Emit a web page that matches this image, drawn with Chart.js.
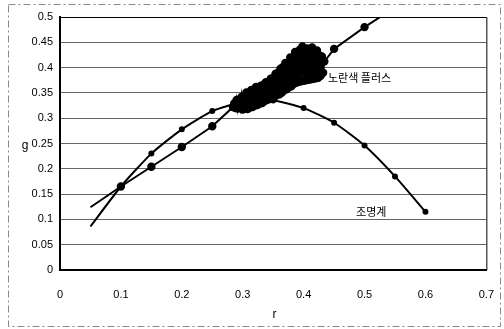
<!DOCTYPE html>
<html>
<head>
<meta charset="utf-8">
<script src="https://cdn.jsdelivr.net/npm/chart.js@4"></script>
<style>
    html, body { margin: 0; padding: 0; background: #fff; }
    #wrap { width: 504px; height: 329px; }
</style>
</head>
<body>
<div id="wrap"><canvas id="chart" width="504" height="329"></canvas></div>
<script>
// 조명계 curve
const curveR = [0.05, 0.1, 0.15, 0.2, 0.25, 0.3, 0.35, 0.4, 0.45, 0.5, 0.55, 0.6];
const curveG = [0.086, 0.165, 0.23, 0.278, 0.314, 0.332, 0.335, 0.32, 0.291, 0.246, 0.185, 0.115];

// 노란색 플러스 line, with the dense cloud of readings between 0.284 and 0.434
const lineR = [0.05, 0.1, 0.15, 0.2, 0.25,
    0.284, 0.286, 0.288, 0.29, 0.292, 0.294, 0.296, 0.298, 0.3, 0.302,
    0.304, 0.306, 0.308, 0.31, 0.312, 0.314, 0.316, 0.318, 0.32, 0.322,
    0.324, 0.326, 0.328, 0.33, 0.332, 0.334, 0.336, 0.338, 0.34, 0.342,
    0.344, 0.346, 0.348, 0.35, 0.352, 0.354, 0.356, 0.358, 0.36, 0.362,
    0.364, 0.366, 0.368, 0.37, 0.372, 0.374, 0.376, 0.378, 0.38, 0.382,
    0.384, 0.386, 0.388, 0.39, 0.392, 0.394, 0.396, 0.398, 0.4, 0.402,
    0.404, 0.406, 0.408, 0.41, 0.412, 0.414, 0.416, 0.418, 0.42, 0.422,
    0.424, 0.426, 0.428, 0.43, 0.432, 0.434,
    0.45, 0.5, 0.55];
const lineG = [0.124, 0.165, 0.204, 0.243, 0.284,
    0.322, 0.329, 0.320, 0.336, 0.319, 0.335, 0.321, 0.342, 0.317, 0.343,
    0.319, 0.351, 0.318, 0.346, 0.321, 0.356, 0.322, 0.351, 0.325, 0.362,
    0.326, 0.359, 0.329, 0.364, 0.330, 0.366, 0.334, 0.371, 0.336, 0.370,
    0.338, 0.378, 0.341, 0.380, 0.342, 0.388, 0.346, 0.390, 0.347, 0.398,
    0.350, 0.401, 0.355, 0.409, 0.357, 0.409, 0.361, 0.420, 0.363, 0.417,
    0.368, 0.431, 0.370, 0.424, 0.372, 0.436, 0.373, 0.442, 0.374, 0.430,
    0.375, 0.438, 0.376, 0.427, 0.377, 0.440, 0.378, 0.430, 0.379, 0.434,
    0.380, 0.424, 0.384, 0.422, 0.390, 0.412,
    0.437, 0.48, 0.519];

const xTicks = [0, 0.1, 0.2, 0.3, 0.4, 0.5, 0.6, 0.7];
const yTicks = [0, 0.05, 0.1, 0.15, 0.2, 0.25, 0.3, 0.35, 0.4, 0.45, 0.5];

const notes = [
    { text: '노란색 플러스', r: 0.44, g: 0.379 },
    { text: '조명계', r: 0.486, g: 0.115 }
];

const toPoints = (xs, ys) => xs.map((x, i) => ({ x: x, y: ys[i] }));

// frame, axis names and the in-plot labels
const decorations = {
    id: 'decorations',
    beforeDraw(chart) {
        const ctx = chart.ctx;
        ctx.save();
        ctx.strokeStyle = '#888';
        ctx.lineWidth = 1;
        ctx.setLineDash([7, 3, 2, 3]);
        ctx.strokeRect(8.5, 4.5, 492, 322);
        ctx.restore();
    },
    afterDraw(chart) {
        const { ctx, chartArea, scales } = chart;
        ctx.save();
        ctx.strokeStyle = '#000';
        ctx.lineWidth = 1;
        ctx.beginPath();
        ctx.moveTo(chartArea.left, chartArea.top + 0.5);
        ctx.lineTo(chartArea.right + 0.5, chartArea.top + 0.5);
        ctx.lineTo(chartArea.right + 0.5, chartArea.bottom);
        ctx.stroke();

        ctx.fillStyle = '#000';
        ctx.font = '12px "Liberation Sans", Arial, sans-serif';
        ctx.textAlign = 'center';
        ctx.textBaseline = 'middle';
        ctx.fillText('g', 25, scales.y.getPixelForValue(0.245));
        ctx.fillText('r', scales.x.getPixelForValue(0.352), 315);

        ctx.font = '11px "Noto Sans CJK KR", sans-serif';
        ctx.textAlign = 'left';
        notes.forEach(n => {
            ctx.fillText(n.text, scales.x.getPixelForValue(n.r), scales.y.getPixelForValue(n.g));
        });
        ctx.restore();
    }
};

new Chart(document.getElementById('chart'), {
    type: 'scatter',
    data: {
        datasets: [{
            label: '조명계',
            data: toPoints(curveR, curveG),
            showLine: true,
            borderColor: '#000',
            backgroundColor: '#000',
            borderWidth: 2,
            tension: 0.2,
            pointRadius: c => c.dataIndex === 0 ? 0 : 2,
            clip: 0
        }, {
            label: '노란색 플러스',
            data: toPoints(lineR, lineG),
            showLine: true,
            borderColor: '#000',
            backgroundColor: '#000',
            borderWidth: 2,
            tension: 0,
            pointRadius: c => c.dataIndex === 0 ? 0 : 3.2,
            clip: 0
        }]
    },
    options: {
        responsive: false,
        animation: false,
        layout: { padding: { top: 17, right: 15, left: 0, bottom: 0 } },
        plugins: {
            legend: { display: false },
            tooltip: { enabled: false }
        },
        scales: {
            x: {
                type: 'linear',
                min: 0,
                max: 0.7,
                afterFit: s => { s.height = 59; },
                afterBuildTicks: s => { s.ticks = xTicks.map(v => ({ value: v })); },
                grid: { display: false },
                border: { display: true, color: '#000', width: 2 },
                ticks: {
                    color: '#000',
                    padding: 10,
                    maxRotation: 0,
                    font: { family: '"Liberation Sans", Arial, sans-serif', size: 11 },
                    callback: v => String(Math.round(v * 10) / 10)
                }
            },
            y: {
                type: 'linear',
                min: 0,
                max: 0.5,
                afterFit: s => { s.width = 60; },
                afterBuildTicks: s => { s.ticks = yTicks.map(v => ({ value: v })); },
                grid: { color: '#666', lineWidth: 1, drawTicks: false },
                border: { display: true, color: '#000', width: 2 },
                ticks: {
                    color: '#000',
                    padding: 7,
                    font: { family: '"Liberation Sans", Arial, sans-serif', size: 11 },
                    callback: v => String(Math.round(v * 100) / 100)
                }
            }
        }
    },
    plugins: [decorations]
});
</script>
</body>
</html>
